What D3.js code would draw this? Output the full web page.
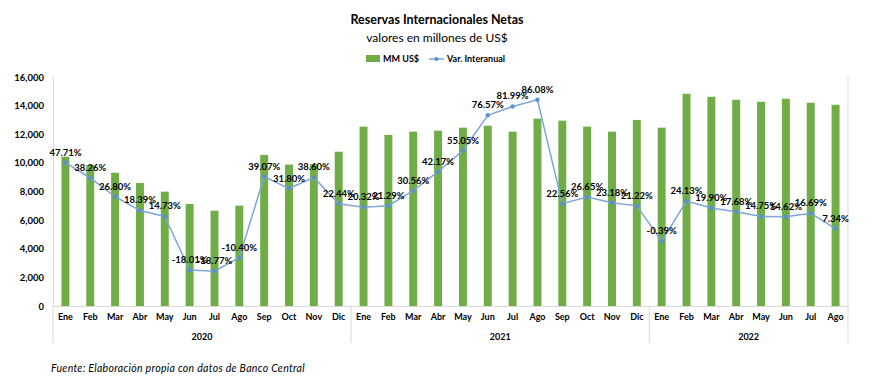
<!DOCTYPE html>
<html>
<head>
<meta charset="utf-8">
<script src="https://cdn.jsdelivr.net/npm/d3@7"></script>
<style>
  body { margin: 0; background: #fff; }
  text { font-family: Lato, "Open Sans", sans-serif; }
</style>
</head>
<body>
<div id="chart"></div>
<script>
// data
var months = ["Ene","Feb","Mar","Abr","May","Jun","Jul","Ago","Sep","Oct","Nov","Dic",
              "Ene","Feb","Mar","Abr","May","Jun","Jul","Ago","Sep","Oct","Nov","Dic",
              "Ene","Feb","Mar","Abr","May","Jun","Jul","Ago"];
var years = ["2020", "2021", "2022"];
var yearCounts = [12, 12, 8];
var reservas = [10430, 9850, 9310, 8590, 7990, 7130, 6660, 7010, 10550, 9880, 9920, 10780,
                12530, 11950, 12180, 12250, 12460, 12600, 12180, 13090, 12950, 12530, 12180, 13000,
                12460, 14830, 14620, 14410, 14270, 14480, 14200, 14060];
var varInteranual = [47.71, 38.26, 26.80, 18.39, 14.73, -18.01, -18.77, -10.40, 39.07, 31.80, 38.60, 22.44,
                     20.32, 21.29, 30.56, 42.17, 55.05, 76.57, 81.99, 86.08, 22.56, 26.65, 23.18, 21.22,
                     -0.39, 24.13, 19.90, 17.68, 14.75, 14.62, 16.69, 7.34];
var yTicks = [0, 2000, 4000, 6000, 8000, 10000, 12000, 14000, 16000];

var width = 872, height = 389;
var margin = { top: 77, left: 53, right: 24, bottom: 83 };
var plotW = width - margin.left - margin.right,
    plotH = height - margin.top - margin.bottom;

var svg = d3.select("#chart").append("svg")
  .attr("width", width)
  .attr("height", height);

// titles
svg.append("text")
  .attr("x", 437).attr("y", 24)
  .attr("text-anchor", "middle")
  .style("font-size", "12.5px").style("font-weight", "bold")
  .text("Reservas Internacionales Netas");
svg.append("text")
  .attr("x", 437).attr("y", 42)
  .attr("text-anchor", "middle")
  .style("font-size", "12px")
  .text("valores en millones de US$");

// legend
var legend = svg.append("g").attr("transform", "translate(366,59)");
legend.append("rect").attr("x", 0).attr("y", -4).attr("width", 14).attr("height", 7).attr("fill", "#70AD47");
legend.append("text").attr("x", 17).attr("y", 3).style("font-size", "9px").style("font-weight", "bold").text("MM US$");
legend.append("line").attr("x1", 63).attr("x2", 78).attr("y1", 0).attr("y2", 0)
  .attr("stroke", "#7EA6DA").attr("stroke-width", 1.5);
legend.append("circle").attr("cx", 70.5).attr("cy", 0).attr("r", 2).attr("fill", "#5B8FD0");
legend.append("text").attr("x", 81).attr("y", 3).style("font-size", "9px").style("font-weight", "bold").text("Var. Interanual");

var g = svg.append("g").attr("transform", "translate(" + margin.left + "," + margin.top + ")");

var x = d3.scaleBand()
  .domain(d3.range(months.length))
  .range([0, plotW])
  .paddingInner(0.68)
  .paddingOuter(0.34);

var y = d3.scaleLinear().domain([0, 16000]).range([plotH, 0]);
var y2 = d3.scaleLinear().domain([-40, 100]).range([plotH, 0]);

// y axis
var yAxis = d3.axisLeft(y).tickValues(yTicks).tickSize(0).tickPadding(9)
  .tickFormat(d3.format(","));
var yg = g.append("g").call(yAxis);
yg.select(".domain").attr("stroke", "#D9D9D9");
yg.selectAll("text").style("font-size", "9.5px").style("font-weight", "bold").attr("fill", "#000");

// right frame line
g.append("line").attr("x1", plotW).attr("x2", plotW).attr("y1", 0).attr("y2", plotH + 37)
  .attr("stroke", "#D9D9D9");

// bars
g.selectAll("rect.bar")
  .data(reservas)
  .enter().append("rect")
  .attr("class", "bar")
  .attr("x", function(d, i) { return x(i); })
  .attr("y", function(d) { return y(d); })
  .attr("width", x.bandwidth())
  .attr("height", function(d) { return plotH - y(d); })
  .attr("fill", "#70AD47");

// x axis (month level)
var xAxis = d3.axisBottom(x).tickSize(0).tickPadding(8)
  .tickFormat(function(i) { return months[i]; });
var xg = g.append("g").attr("transform", "translate(0," + plotH + ")").call(xAxis);
xg.select(".domain").attr("stroke", "#D9D9D9");
xg.selectAll("text").style("font-size", "9px").style("font-weight", "bold").attr("fill", "#000");

// year level
var step = x.step();
var start = 0;
years.forEach(function(yr, k) {
  var x0 = start * step, x1 = (start + yearCounts[k]) * step;
  g.append("line").attr("x1", x0).attr("x2", x0).attr("y1", plotH).attr("y2", plotH + 37)
    .attr("stroke", "#D9D9D9");
  g.append("text")
    .attr("x", (x0 + x1) / 2).attr("y", plotH + 34)
    .attr("text-anchor", "middle")
    .style("font-size", "9px").style("font-weight", "bold")
    .text(yr);
  start += yearCounts[k];
});

// line
var line = d3.line()
  .x(function(d, i) { return x(i) + x.bandwidth() / 2; })
  .y(function(d) { return y2(d); });

g.append("path")
  .datum(varInteranual)
  .attr("d", line)
  .attr("fill", "none")
  .attr("stroke", "#7EA6DA")
  .attr("stroke-width", 1.5);

g.selectAll("circle.pt")
  .data(varInteranual)
  .enter().append("circle")
  .attr("class", "pt")
  .attr("cx", function(d, i) { return x(i) + x.bandwidth() / 2; })
  .attr("cy", function(d) { return y2(d); })
  .attr("r", 2.2)
  .attr("fill", "#5B8FD0");

g.selectAll("text.lbl")
  .data(varInteranual)
  .enter().append("text")
  .attr("class", "lbl")
  .attr("x", function(d, i) { return x(i) + x.bandwidth() / 2; })
  .attr("y", function(d) { return y2(d) - 7; })
  .attr("text-anchor", "middle")
  .style("font-size", "9.5px").style("font-weight", "bold")
  .attr("fill", "#000")
  .text(function(d) { return d.toFixed(2) + "%"; });

// source
svg.append("text")
  .attr("x", 51).attr("y", 372)
  .style("font-size", "10.5px").style("font-style", "italic")
  .style("letter-spacing", "0.3px")
  .text("Fuente: Elaboración propia con datos de Banco Central");
</script>
</body>
</html>
